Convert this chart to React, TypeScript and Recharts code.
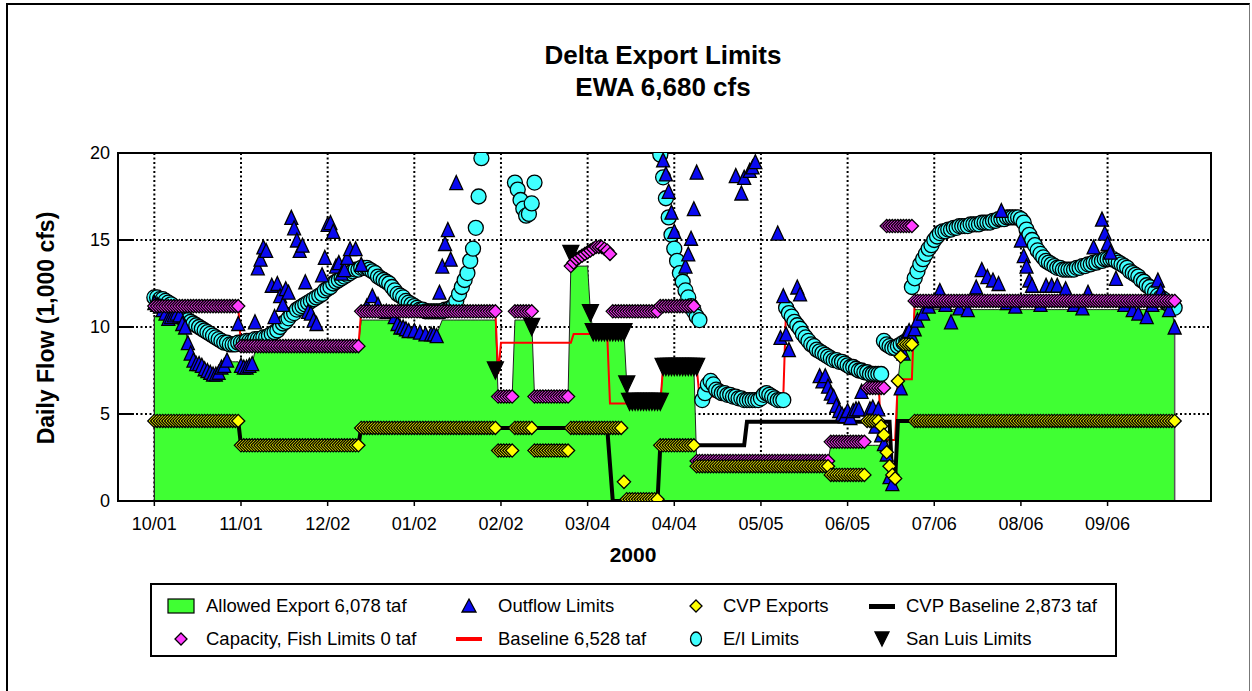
import React from "react";
import {
  ComposedChart,
  Area,
  Line,
  Scatter,
  XAxis,
  YAxis,
  CartesianGrid,
  ReferenceLine,
  ReferenceArea,
} from "recharts";

const FONT = '"Liberation Sans", Arial, Helvetica, sans-serif';

// days are counted from 10/01/1999, one tick every 31 days
const tickDays = [0, 31, 62, 93, 124, 155, 186, 217, 248, 279, 310, 341];
const tickLabels = ["10/01", "11/01", "12/02", "01/02", "02/02", "03/04", "04/04", "05/05", "06/05", "07/06", "08/06", "09/06"];
const flowTicks = [0, 5, 10, 15, 20];

// a piece is [firstDay, lastDay, value] or [firstDay, [one value per day]]
type Piece = [number, number, number] | [number, number[]];

const allowedPieces: Piece[] = [
  [0, 9, 10.6],
  [10, [10.2, 10.0, 9.1, 8.5, 8.1, 7.9, 7.9, 7.8, 7.6, 7.5, 7.4, 7.3, 7.3, 7.4, 7.7, 7.8, 8.1, 8.1, 8.0, 8.0, 8.0, 7.8, 7.7, 7.7, 7.8, 7.9, 8.6]],
  [37, 73, 8.9],
  [74, 86, 10.4],
  [87, [10.2, 10.0, 10.0, 10.0, 9.8, 9.8, 9.8, 9.8, 9.8, 9.6, 9.6, 9.6, 9.6, 9.6, 9.6, 10.0]],
  [103, 122, 10.4],
  [123, 128, 6.0],
  [129, 135, 10.4],
  [136, 148, 6.0],
  [149, 155, 13.5],
  [156, 156, 10.8],
  [157, 168, 9.7],
  [169, 169, 6.7],
  [170, 181, 5.7],
  [182, 193, 7.7],
  [194, 241, 2.3],
  [242, 262, 3.2],
  [263, [2.0, 1.5, 1.3, 6.9, 8.3]],
  [268, 271, 9.0],
  [272, 364, 11.0],
  [365, 365, 10.0],
];

const capacityPieces: Piece[] = [
  [0, 30, 11.2],
  [31, 73, 8.9],
  [74, 122, 10.9],
  [123, 128, 6.0],
  [129, 135, 10.9],
  [136, 148, 6.0],
  [149, [13.5, 13.7, 13.9, 14.0, 14.1, 14.2, 14.3, 14.4, 14.5, 14.6, 14.6, 14.6, 14.5, 14.4, 14.2]],
  [164, 180, 10.9],
  [181, 193, 11.2],
  [194, 241, 2.3],
  [242, 254, 3.4],
  [255, 261, 6.5],
  [262, 271, 15.8],
  [272, 365, 11.5],
];

const cvpPieces: Piece[] = [
  [0, 30, 4.6],
  [31, 73, 3.2],
  [74, 122, 4.2],
  [123, 128, 2.9],
  [129, 135, 4.2],
  [136, 148, 2.9],
  [149, 167, 4.2],
  [168, 168, 1.1],
  [169, 180, 0.1],
  [181, 193, 3.2],
  [194, 241, 2.0],
  [242, 254, 1.5],
  [255, 259, 4.6],
  [260, [4.3, 3.8, 2.8, 2.0, 1.5, 1.3, 6.9, 8.3]],
  [268, 271, 9.0],
  [272, 365, 4.6],
];

const cvpBasePieces: Piece[] = [
  [0, 30, 4.6],
  [31, 73, 3.2],
  [74, 162, 4.2],
  [163, 163, 2.1],
  [164, 180, 0],
  [181, 211, 3.2],
  [212, 263, 4.55],
  [264, 265, 1.2],
  [266, 365, 4.6],
];

const baselinePieces: Piece[] = [
  [0, 30, 11.2],
  [31, 73, 8.9],
  [74, 122, 10.9],
  [123, 123, 7.3],
  [124, 149, 9.1],
  [150, 162, 9.6],
  [163, 181, 5.6],
  [182, 194, 7.7],
  [195, 225, 6.0],
  [226, [11.1, 10.8, 10.6, 10.3, 10.1, 9.9, 9.6, 9.4, 9.2, 9.0, 8.9, 8.7, 8.6, 8.5, 8.4, 8.3, 8.2,
    8.1, 8.1, 8.0, 8.0, 7.9, 7.8, 7.7, 7.7, 7.6, 7.5, 7.5, 7.4, 7.4, 7.3, 7.3, 7.3, 7.3]],
  [260, 265, 3.5],
  [266, 271, 7.0],
  [272, 365, 11.5],
];

const sanLuisPieces: Piece[] = [
  [122, 122, 7.5],
  [135, 135, 10.0],
  [149, 149, 14.2],
  [156, 156, 10.8],
  [157, 168, 9.7],
  [169, 169, 6.7],
  [170, 181, 5.7],
  [182, 194, 7.7],
];

const eiPieces: Piece[] = [
  [0, [
    11.7, 11.7, 11.6, 11.6, 11.5, 11.4, 11.3, 11.1, 10.9, 10.7,
    10.5, 10.4, 10.4, 10.3, 10.2, 10.1, 10.0, 9.9, 9.8, 9.7,
    9.6, 9.5, 9.4, 9.3, 9.2, 9.1, 9.1, 9.0, 9.0, 9.0,
    9.1, 9.1, 9.1, 9.2, 9.2, 9.2, 9.3, 9.3, 9.3, 9.4,
    9.4, 9.5, 9.6, 9.7, 9.8, 10.0, 10.2, 10.3, 10.5, 10.7,
    10.8, 11.0, 11.1, 11.2, 11.3, 11.4, 11.5, 11.6, 11.7, 11.8,
    11.9, 12.1, 12.2, 12.3, 12.5, 12.6, 12.7, 12.8, 12.9, 13.0,
    13.1, 13.2, 13.3, 13.3, 13.4, 13.4, 13.4, 13.3, 13.2, 13.1,
    12.9, 12.8, 12.7, 12.6, 12.5, 12.3, 12.1, 11.9, 11.8, 11.7,
    11.5, 11.4, 11.3, 11.2, 11.1, 11.0, 11.0, 10.9, 10.9, 10.9,
    10.9, 10.9, 10.9, 10.9, 11.0, 11.0, 11.1, 11.2, 11.5, 11.9,
    12.3, 12.7, 13.1, 13.8, 14.5, 15.7, 17.5, 19.7,
  ]],
  [129, [18.3, 17.9, 17.3, 16.8, 16.4, 16.5, 17.1, 18.3]],
  [181, [19.9, 18.6, 17.4, 16.3, 15.3, 14.5, 13.8, 13.1, 12.6, 12.1, 11.7, 11.2, 10.9, 10.6, 10.4]],
  [196, [
    5.8, 6.2, 6.7, 6.9, 6.7, 6.4, 6.3, 6.2, 6.2, 6.1,
    6.1, 6.0, 6.0, 5.9, 5.9, 5.8, 5.8, 5.8, 5.8, 5.8,
    5.8, 5.9, 6.1, 6.2, 6.1, 6.0, 5.9, 5.8, 5.8, 5.8,
  ]],
  [226, [
    11.1, 10.8, 10.6, 10.3, 10.1, 9.9, 9.6, 9.4, 9.2, 9.0,
    8.9, 8.7, 8.6, 8.5, 8.4, 8.3, 8.2, 8.1, 8.1, 8.0,
    8.0, 7.9, 7.8, 7.7, 7.7, 7.6, 7.5, 7.5, 7.4, 7.4,
    7.3, 7.3, 7.3, 7.3, 7.3,
  ]],
  [261, [9.2, 9.0, 8.9, 8.8, 8.8, 8.9, 9.0, 9.1, 9.2]],
  [271, [
    12.3, 12.8, 13.2, 13.6, 13.9, 14.2, 14.5, 14.7, 15.0, 15.2,
    15.4, 15.5, 15.5, 15.6, 15.6, 15.7, 15.7, 15.8, 15.8, 15.8,
    15.8, 15.9, 15.9, 15.9, 15.9, 16.0, 16.0, 16.0, 16.0, 16.1,
    16.1, 16.2, 16.2, 16.2, 16.3, 16.3, 16.3, 16.3, 16.3, 16.2,
    16.0, 15.6, 15.3, 15.0, 14.7, 14.4, 14.2, 14.0, 13.8, 13.7,
    13.6, 13.5, 13.4, 13.4, 13.3, 13.3, 13.3, 13.3, 13.3, 13.4,
    13.4, 13.5, 13.5, 13.6, 13.6, 13.7, 13.7, 13.8, 13.8, 13.9,
    13.9, 13.9, 13.9, 13.8, 13.7, 13.6, 13.5, 13.4, 13.2, 13.1,
    13.0, 12.9, 12.7, 12.6, 12.4, 12.3, 12.1, 12.0, 11.8, 11.7,
    11.6, 11.4, 11.3, 11.2, 11.1,
  ]],
];

// [day, flow] for each outflow-limited day
const outflowPoints: [number, number][] = [
  [0, 11.4], [1, 11.3], [2, 11.2], [3, 11.0], [4, 10.8], [5, 10.5], [6, 10.6], [7, 10.7], [8, 10.8], [9, 10.7],
  [10, 10.2], [11, 10.0], [12, 9.1], [13, 8.5], [14, 8.1], [15, 7.9], [16, 7.9], [17, 7.8], [18, 7.6], [19, 7.5],
  [20, 7.4], [21, 7.3], [22, 7.3], [23, 7.4], [24, 7.7], [25, 7.8], [26, 8.1], [30, 10.2], [31, 7.8], [32, 7.7],
  [33, 7.7], [34, 7.8], [35, 7.9], [36, 10.3], [37, 13.4], [38, 13.9], [39, 14.6], [40, 14.4], [42, 12.4], [43, 10.6],
  [44, 12.5], [45, 11.8], [46, 11.3], [47, 12.2], [48, 12.0], [49, 16.3], [50, 15.7], [51, 15.0], [52, 14.4], [53, 14.7],
  [54, 12.6], [55, 10.9], [56, 10.8], [57, 10.4], [58, 10.2], [60, 13.0], [61, 14.0], [62, 15.9], [63, 16.0], [64, 15.5],
  [65, 13.5], [66, 13.7], [67, 13.1], [68, 13.3], [69, 14.0], [70, 14.5], [72, 14.5], [74, 13.6], [76, 11.2], [78, 11.8],
  [80, 11.3], [83, 10.9], [86, 10.6], [87, 10.2], [88, 10.0], [89, 10.0], [90, 9.9], [91, 9.8], [93, 9.8], [95, 9.7],
  [97, 9.6], [99, 9.6], [100, 9.6], [101, 9.5], [102, 12.0], [103, 13.5], [104, 14.8], [105, 15.6], [106, 13.9], [108, 18.3],
  [182, 19.6], [183, 18.8], [184, 17.8], [185, 16.6], [186, 15.5], [190, 13.5], [191, 14.2], [192, 15.1], [193, 16.8], [194, 18.9],
  [208, 18.7], [210, 17.7], [211, 18.6], [213, 19.0], [214, 19.2], [215, 19.5],
  [223, 15.4], [224, 9.4], [225, 11.8], [226, 9.6], [227, 8.7], [230, 12.3], [231, 11.9],
  [238, 7.2], [239, 6.9], [240, 7.2], [241, 6.6], [242, 6.2], [243, 6.0], [244, 5.5], [245, 5.2], [246, 5.0], [247, 4.9],
  [248, 5.2], [249, 4.8], [250, 5.2], [251, 5.3], [252, 5.3], [253, 6.3], [256, 5.3], [257, 5.4], [258, 4.3], [259, 5.3],
  [260, 3.8], [261, 3.3], [262, 2.7], [263, 1.4], [264, 1.0],
  [267, 6.5], [268, 8.5], [269, 9.6], [270, 9.8], [271, 9.5], [272, 9.9], [273, 10.4], [275, 10.8], [277, 11.2], [279, 11.5],
  [281, 12.1], [283, 11.3], [285, 10.3], [288, 11.1], [291, 11.0], [294, 12.3], [296, 13.3], [298, 12.9], [300, 12.7], [302, 12.5],
  [303, 16.7], [305, 11.4], [308, 11.2], [310, 15.0], [311, 14.1], [312, 13.5], [313, 12.7], [314, 12.4], [317, 11.3], [319, 12.4],
  [321, 12.4], [323, 12.4], [326, 12.2], [329, 11.3], [332, 11.1], [334, 12.0], [336, 14.6], [339, 16.2], [340, 15.4], [341, 14.8],
  [342, 14.3], [344, 12.8], [347, 11.3], [350, 11.0], [352, 10.8], [355, 10.6], [357, 11.3], [359, 12.7], [360, 12.1], [361, 11.7],
  [363, 11.0], [365, 10.0],
];

const legendLabels = [
  ["Allowed Export 6,078 taf", "Outflow Limits", "CVP Exports", "CVP Baseline 2,873 taf"],
  ["Capacity, Fish Limits 0 taf", "Baseline 6,528 taf", "E/I Limits", "San Luis Limits"],
];

function expand(pieces: Piece[]) {
  const out = new Map<number, number>();
  for (const p of pieces) {
    const start = p[0];
    const second = p[1];
    if (Array.isArray(second)) second.forEach((v, i) => out.set(start + i, v));
    else for (let d = start; d <= second; d++) out.set(d, p[2] as number);
  }
  return out;
}

const toPoints = (m: Map<number, number>) => [...m].map(([day, v]) => ({ day, v }));

const allowed = expand(allowedPieces);
const baseline = expand(baselinePieces);
const cvpBase = expand(cvpBasePieces);

const rows = Array.from({ length: 366 }, (_, day) => ({
  day,
  allowed: allowed.get(day) ?? null,
  baseline: baseline.get(day) ?? null,
  cvpBase: cvpBase.get(day) ?? null,
}));

const capacityData = toPoints(expand(capacityPieces));
const cvpData = toPoints(expand(cvpPieces));
const eiData = toPoints(expand(eiPieces));
const sanLuisData = toPoints(expand(sanLuisPieces));
const outflowData = outflowPoints.map(([day, v]) => ({ day, v }));

const GREEN = "#40FF33";
const MAGENTA = "#FF3CFF";
const YELLOW = "#FFFF00";
const BLUE = "#0A0AF0";
const CYAN = "#40FFFF";

const edge = { stroke: "#000", strokeWidth: 1.3 };

function diamond(fill: string, r: number) {
  return (p: any) => {
    if (p.cx == null || p.cy == null) return <g />;
    const { cx, cy } = p;
    return <path d={`M${cx},${cy - r}L${cx + r},${cy}L${cx},${cy + r}L${cx - r},${cy}Z`} fill={fill} {...edge} />;
  };
}

function triangle(fill: string, w: number, h: number, down: boolean) {
  return (p: any) => {
    if (p.cx == null || p.cy == null) return <g />;
    const { cx, cy } = p;
    const tip = down ? cy + h / 2 : cy - h / 2;
    const base = down ? cy - h / 2 : cy + h / 2;
    return <path d={`M${cx},${tip}L${cx + w / 2},${base}L${cx - w / 2},${base}Z`} fill={fill} {...edge} />;
  };
}

function circle(fill: string, r: number) {
  return (p: any) => {
    if (p.cx == null || p.cy == null) return <g />;
    return <circle cx={p.cx} cy={p.cy} r={r} fill={fill} {...edge} />;
  };
}

function LegendIcon({ col, row }: { col: number; row: number }) {
  const key = `${row}-${col}`;
  const shapes: Record<string, React.ReactNode> = {
    "0-0": <rect x={2} y={3} width={26} height={14} fill={GREEN} stroke="#000" strokeWidth={1.2} />,
    "0-1": <path d="M15,3L22,16L8,16Z" fill={BLUE} {...edge} />,
    "0-2": <path d="M15,4L21,10L15,16L9,10Z" fill={YELLOW} {...edge} />,
    "0-3": <rect x={2} y={8} width={26} height={5} fill="#000" />,
    "1-0": <path d="M15,4L21,10L15,16L9,10Z" fill={MAGENTA} {...edge} />,
    "1-1": <rect x={2} y={8} width={26} height={4} fill="#FF0000" />,
    "1-2": <ellipse cx={15} cy={10} rx={5.5} ry={7} fill={CYAN} {...edge} />,
    "1-3": <path d="M15,17L22,3L8,3Z" fill="#000" {...edge} />,
  };
  return (
    <svg width={30} height={20} style={{ display: "block" }}>
      {shapes[key]}
    </svg>
  );
}

const legendIconX = [181, 469, 696, 882];
const legendTextX = [206, 498, 723, 906];
const legendRowY = [606, 639];

export default function App() {
  return (
    <div style={{ position: "absolute", left: 0, top: 0, width: 1252, height: 691, background: "#fff", fontFamily: FONT }}>
      <div
        style={{
          position: "absolute",
          left: 6,
          top: 3,
          width: 1244,
          height: 700,
          borderLeft: "2px solid #000",
          borderTop: "2px solid #000",
          borderRight: "1px solid #777",
          boxSizing: "border-box",
        }}
      />
      <div style={{ position: "absolute", left: 0, width: 1326, top: 40, textAlign: "center", fontSize: 26, fontWeight: "bold", lineHeight: "30px" }}>
        Delta Export Limits
      </div>
      <div style={{ position: "absolute", left: 0, width: 1326, top: 72, textAlign: "center", fontSize: 26, fontWeight: "bold", lineHeight: "30px" }}>
        EWA 6,680 cfs
      </div>

      <div style={{ position: "absolute", left: 0, top: 0 }}>
        <ComposedChart width={1252} height={691} data={rows} margin={{ top: 153, right: 41, bottom: 160, left: 78 }}>
          <CartesianGrid stroke="#000" strokeWidth={2} strokeDasharray="2 2.5" />
          <XAxis
            dataKey="day"
            type="number"
            domain={[-13, 378]}
            allowDataOverflow
            ticks={tickDays}
            interval={0}
            tickFormatter={(d: number) => tickLabels[tickDays.indexOf(d)] ?? ""}
            tick={{ fill: "#000", fontSize: 18, fontFamily: FONT }}
            tickLine={{ stroke: "#000", strokeWidth: 1.5 }}
            tickSize={5}
            tickMargin={11}
            axisLine={{ stroke: "#000", strokeWidth: 2 }}
            height={30}
          />
          <YAxis
            type="number"
            domain={[0, 20]}
            allowDataOverflow
            ticks={flowTicks}
            interval={0}
            tick={{ fill: "#000", fontSize: 18, fontFamily: FONT }}
            tickLine={false}
            tickSize={0}
            tickMargin={8}
            axisLine={{ stroke: "#000", strokeWidth: 2 }}
            width={40}
          />
          <Area
            dataKey="allowed"
            type="linear"
            fill={GREEN}
            fillOpacity={1}
            stroke="#222"
            strokeWidth={1}
            baseValue={0}
            isAnimationActive={false}
          />
          <ReferenceLine segment={[{ x: 0, y: 0 }, { x: 0, y: rows[0].allowed as number }]} stroke="#222" strokeWidth={1.2} />
          <ReferenceLine segment={[{ x: 365, y: 0 }, { x: 365, y: rows[365].allowed as number }]} stroke="#555" strokeWidth={1.5} />
          <Line dataKey="baseline" type="linear" stroke="#FF0000" strokeWidth={2} dot={false} isAnimationActive={false} />
          <Line dataKey="cvpBase" type="linear" stroke="#000" strokeWidth={4} dot={false} isAnimationActive={false} />
          <Scatter data={eiData} dataKey="v" shape={circle(CYAN, 7.5)} isAnimationActive={false} />
          <Scatter data={outflowData} dataKey="v" shape={triangle(BLUE, 13, 14, false)} isAnimationActive={false} />
          <Scatter data={sanLuisData} dataKey="v" shape={triangle("#000", 16, 17, true)} isAnimationActive={false} />
          <Scatter data={capacityData} dataKey="v" shape={diamond(MAGENTA, 6.6)} isAnimationActive={false} />
          <Scatter data={cvpData} dataKey="v" shape={diamond(YELLOW, 6.6)} isAnimationActive={false} />
          {[5, 10, 15].map((v) => (
            <ReferenceLine key={v} segment={[{ x: -13, y: v }, { x: -7.3, y: v }]} stroke="#000" strokeWidth={2} />
          ))}
          <ReferenceArea x1={-13} x2={378} y1={0} y2={20} fill="none" stroke="#000" strokeWidth={2} />
        </ComposedChart>
      </div>

      <div
        style={{
          position: "absolute",
          left: -154,
          top: 315,
          width: 400,
          height: 26,
          lineHeight: "26px",
          textAlign: "center",
          fontSize: 23,
          fontWeight: "bold",
          transform: "rotate(-90deg)",
        }}
      >
        Daily Flow (1,000 cfs)
      </div>
      <div style={{ position: "absolute", left: 583, top: 543, width: 100, textAlign: "center", fontSize: 21, fontWeight: "bold", lineHeight: "24px" }}>
        2000
      </div>

      <div style={{ position: "absolute", left: 150, top: 583, width: 967, height: 74, border: "2px solid #000", boxSizing: "border-box" }} />
      {legendLabels.map((labels, row) =>
        labels.map((label, col) => (
          <React.Fragment key={`${row}-${col}`}>
            <div style={{ position: "absolute", left: legendIconX[col] - 15, top: legendRowY[row] - 10 }}>
              <LegendIcon col={col} row={row} />
            </div>
            <div
              style={{
                position: "absolute",
                left: legendTextX[col],
                top: legendRowY[row] - 11,
                fontSize: 18.5,
                lineHeight: "22px",
                whiteSpace: "nowrap",
              }}
            >
              {label}
            </div>
          </React.Fragment>
        ))
      )}
    </div>
  );
}
